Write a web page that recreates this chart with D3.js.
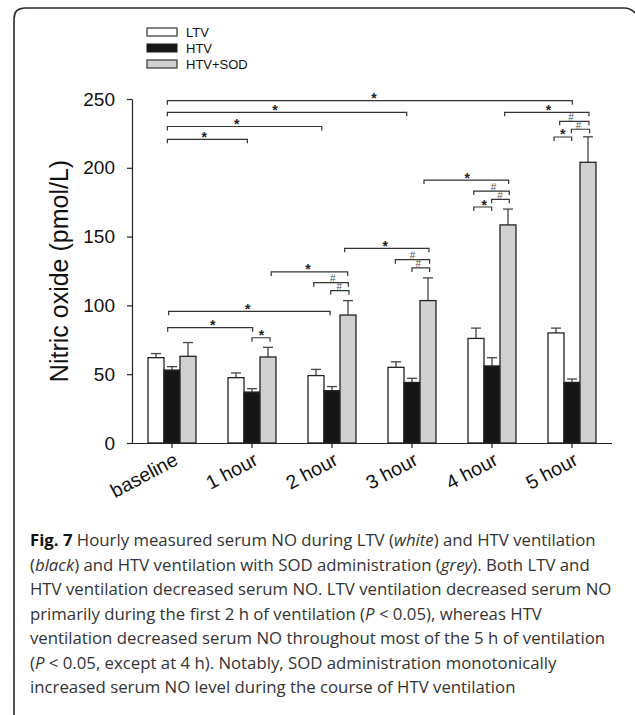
<!DOCTYPE html>
<html>
<head>
<meta charset="utf-8">
<script src="https://cdn.jsdelivr.net/npm/d3@7"></script>
<style>
  html, body { margin: 0; padding: 0; background: #fff; }
  svg { display: block; }
</style>
</head>
<body>
<script>
// ---------------- data ----------------
const categories = ["baseline", "1 hour", "2 hour", "3 hour", "4 hour", "5 hour"];
const seriesNames = ["LTV", "HTV", "HTV+SOD"];
const ltvValues = [62, 47.5, 49, 55, 76, 80];
const ltvErrors = [3, 3.4, 4.5, 4, 7.5, 3.5];
const htvValues = [53, 37, 38, 44, 56, 44];
const htvErrors = [2.5, 2.5, 3, 3, 6, 2.5];
const sodValues = [63, 62.5, 93, 103.5, 158.5, 204];
const sodErrors = [10, 7, 10.5, 16.5, 11.5, 18.5];
const yTicks = [0, 50, 100, 150, 200, 250];
const yLabel = "Nitric oxide (pmol/L)";

// significance brackets: [category1, seriesPos1, category2, seriesPos2, yValue, symbol, labelFraction]
const brackets = [
  [0, 0.71, 5, 1.02, 248.8, "*", 0.51],
  [0, 0.71, 3, 0.67, 240.3, "*", 0.45],
  [0, 0.71, 2, 0.36, 230.0, "*", 0.45],
  [0, 0.71, 1, 0.71, 220.7, "*", 0.46],
  [4, 1.79, 5, 2.06, 240.3, "*", 0.52],
  [5, 0.23, 5, 2.06, 233.8, "#", 0.39],
  [5, 0.96, 5, 2.10, 228.0, "#", 0.40],
  [5, -0.12, 5, 0.98, 222.4, "*", 0.49],
  [3, 1.75, 4, 2.04, 191.1, "*", 0.51],
  [4, -0.14, 4, 2.08, 183.1, "#", 0.56],
  [4, 0.98, 4, 2.08, 177.1, "#", 0.47],
  [4, -0.14, 4, 0.98, 171.5, "*", 0.59],
  [2, 1.79, 3, 2.06, 141.5, "*", 0.48],
  [3, -0.04, 3, 2.10, 133.2, "#", 0.50],
  [3, 1.00, 3, 2.10, 127.2, "#", 0.36],
  [1, 2.20, 2, 1.98, 124.3, "*", 0.48],
  [2, -0.14, 2, 2.02, 116.5, "#", 0.55],
  [2, 0.92, 2, 2.06, 110.7, "#", 0.47],
  [0, 0.79, 2, 0.88, 95.7, "*", 0.49],
  [0, 0.73, 1, 1.04, 83.8, "*", 0.53],
  [1, 1.00, 1, 2.13, 76.5, "*", 0.52]
];

const captionLines = [
  [["Fig. 7", "b"], [" Hourly measured serum NO during LTV (", ""], ["white", "i"], [") and HTV ventilation", ""]],
  [["(", ""], ["black", "i"], [") and HTV ventilation with SOD administration (", ""], ["grey", "i"], ["). Both LTV and", ""]],
  [["HTV ventilation decreased serum NO. LTV ventilation decreased serum NO", ""]],
  [["primarily during the first 2 h of ventilation (", ""], ["P", "i"], [" < 0.05), whereas HTV", ""]],
  [["ventilation decreased serum NO throughout most of the 5 h of ventilation", ""]],
  [["(", ""], ["P", "i"], [" < 0.05, except at 4 h). Notably, SOD administration monotonically", ""]],
  [["increased serum NO level during the course of HTV ventilation", ""]]
];

// ---------------- layout ----------------
const W = 635, H = 715;
const svg = d3.select("body").append("svg").attr("width", W).attr("height", H);

// frame (rounded top-left box)
svg.append("path")
  .attr("d", "M14,715 L14,19 Q14,8 25,8 L624,8 Q631,8 635,13")
  .attr("fill", "none").attr("stroke", "#2a2a2a").attr("stroke-width", 1.6);

const x = d3.scaleBand().domain(d3.range(categories.length)).range([132, 612])
  .paddingInner(0.4).paddingOuter(0.2);
const xs = d3.scaleBand().domain(d3.range(3)).range([0, x.bandwidth()]);
const sPos = d3.scaleLinear().domain([0, 2])
  .range([xs(0) + xs.bandwidth() / 2, xs(2) + xs.bandwidth() / 2]);
const y = d3.scaleLinear().domain([0, 250]).range([443, 99]);

const fills = ["#ffffff", "#161616", "#d0d0d0"];
const vals = [ltvValues, htvValues, sodValues];
const errs = [ltvErrors, htvErrors, sodErrors];

const barData = [];
categories.forEach((c, ci) => {
  for (let s = 0; s < 3; s++) barData.push({ ci, s, v: vals[s][ci], e: errs[s][ci] });
});

const gBars = svg.append("g");
gBars.selectAll("line.err").data(barData).join("line").attr("class", "err")
  .attr("x1", d => x(d.ci) + xs(d.s) + xs.bandwidth() / 2)
  .attr("x2", d => x(d.ci) + xs(d.s) + xs.bandwidth() / 2)
  .attr("y1", d => y(d.v)).attr("y2", d => y(d.v + d.e))
  .attr("stroke", "#444").attr("stroke-width", 1.3);
gBars.selectAll("line.cap").data(barData).join("line").attr("class", "cap")
  .attr("x1", d => x(d.ci) + xs(d.s) + xs.bandwidth() / 2 - 5)
  .attr("x2", d => x(d.ci) + xs(d.s) + xs.bandwidth() / 2 + 5)
  .attr("y1", d => y(d.v + d.e)).attr("y2", d => y(d.v + d.e))
  .attr("stroke", "#444").attr("stroke-width", 1.3);
gBars.selectAll("rect").data(barData).join("rect")
  .attr("x", d => x(d.ci) + xs(d.s))
  .attr("y", d => y(d.v))
  .attr("width", xs.bandwidth())
  .attr("height", d => y(0) - y(d.v))
  .attr("fill", d => fills[d.s])
  .attr("stroke", "#222").attr("stroke-width", 1.3);

// axes
const fontAxis = "'Liberation Sans', Arial, sans-serif";
const yAxis = svg.append("g").attr("transform", "translate(132,0)")
  .call(d3.axisLeft(y).tickValues(yTicks).tickSize(5).tickSizeOuter(0).tickPadding(12));
yAxis.selectAll("text").attr("font-family", fontAxis).attr("font-size", 19).attr("fill", "#111");
yAxis.selectAll("line,path").attr("stroke", "#222").attr("stroke-width", 1.2);

const xAxis = svg.append("g").attr("transform", "translate(0,443)")
  .call(d3.axisBottom(x).tickFormat(i => categories[i]).tickSize(5).tickSizeOuter(0));
xAxis.select(".domain").attr("d", "M128,0.5H612");
xAxis.selectAll("line,path").attr("stroke", "#222").attr("stroke-width", 1.2);
xAxis.selectAll("text")
  .attr("font-family", fontAxis).attr("font-size", 19.5).attr("fill", "#111")
  .attr("text-anchor", "end").attr("dy", "0.35em")
  .attr("transform", "translate(4,15) rotate(-28)")
  .attr("y", 0).attr("x", 0);

svg.append("text")
  .attr("transform", `translate(68,${(y(0) + y(250)) / 2}) rotate(-90)`)
  .attr("text-anchor", "middle")
  .attr("font-family", fontAxis).attr("font-size", 25).attr("fill", "#111")
  .text(yLabel);

// brackets
const gBr = svg.append("g");
brackets.forEach(([c1, s1, c2, s2, v, sym, f]) => {
  const x1 = x(c1) + sPos(s1), x2 = x(c2) + sPos(s2), yy = y(v);
  gBr.append("path")
    .attr("d", `M${x1},${yy + 4}V${yy}H${x2}V${yy + 4}`)
    .attr("fill", "none").attr("stroke", "#333").attr("stroke-width", 1.2);
  const tx = x1 + (x2 - x1) * f;
  if (sym === "*") {
    gBr.append("text").attr("x", tx).attr("y", yy + 2.5)
      .attr("text-anchor", "middle").attr("font-family", fontAxis)
      .attr("font-size", 14).attr("font-weight", "bold").attr("fill", "#222").text("*");
  } else {
    gBr.append("text").attr("x", tx).attr("y", yy - 0.5)
      .attr("text-anchor", "middle").attr("font-family", fontAxis)
      .attr("font-size", 10).attr("fill", "#555").text("#");
  }
});

// legend
const leg = svg.append("g");
seriesNames.forEach((n, i) => {
  leg.append("rect").attr("x", 147).attr("y", 28 + i * 16).attr("width", 30).attr("height", 8)
    .attr("fill", fills[i]).attr("stroke", "#222").attr("stroke-width", 1.1);
  leg.append("text").attr("x", 186).attr("y", 37 + i * 16)
    .attr("font-family", fontAxis).attr("font-size", 13).attr("fill", "#111").text(n);
});

// caption
const capFont = "'Open Sans', 'Noto Sans', sans-serif";
const cap = svg.append("g");
let fs = 17;
function drawCaption(size) {
  cap.selectAll("*").remove();
  captionLines.forEach((parts, li) => {
    const t = cap.append("text").attr("x", 30).attr("y", 546 + li * 24.5)
      .attr("font-family", capFont).attr("font-size", size).attr("fill", "#333");
    parts.forEach(([s, st]) => {
      const ts = t.append("tspan").text(s);
      if (st === "b") ts.attr("font-weight", "bold").attr("fill", "#111");
      if (st === "i") ts.attr("font-style", "italic");
    });
  });
}
drawCaption(fs);
let maxW = 0;
cap.selectAll("text").each(function () { maxW = Math.max(maxW, this.getComputedTextLength()); });
fs = fs * 582 / maxW;
drawCaption(fs);
</script>
</body>
</html>
